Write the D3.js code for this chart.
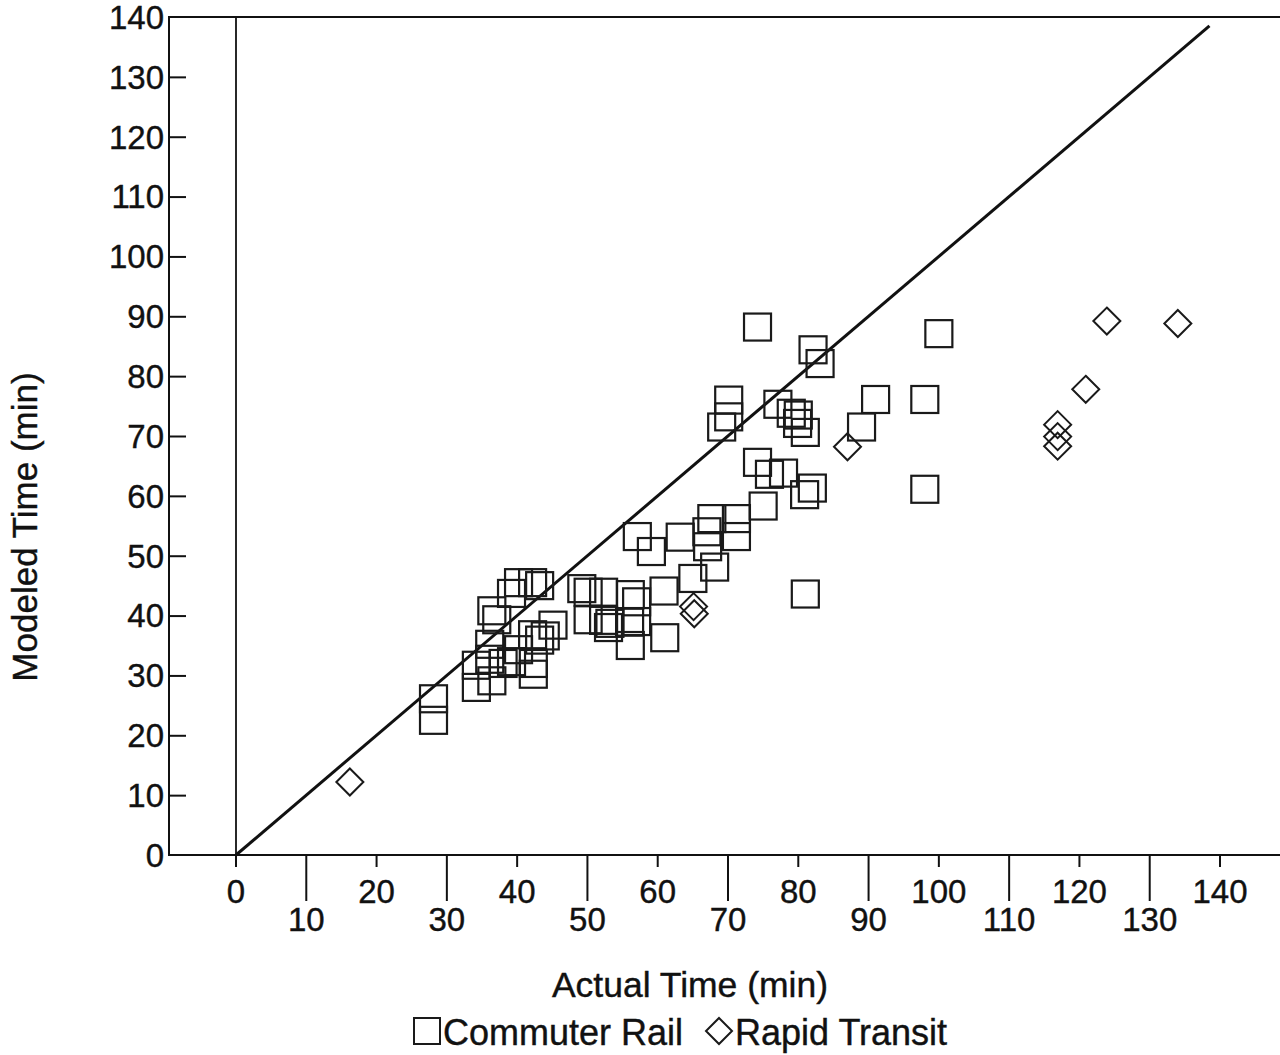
<!DOCTYPE html>
<html>
<head>
<meta charset="utf-8">
<script src="https://cdn.jsdelivr.net/npm/d3@7"></script>
<style>
	body { margin: 0; background: #fff; }
	svg { display: block; font-family: "Liberation Sans", Arial, sans-serif; }
	text { stroke: #111; stroke-width: 0.4px; }
</style>
</head>
<body>
<svg id="chart" width="1280" height="1055"></svg>
<script>
'use strict';

// actual time, modeled time (min)
let commuterRail = [
	[28.1, 26.1], [28.1, 22.5],
	[34.2, 31.7], [34.2, 28.0], [36.1, 35.2], [36.1, 32.7], [36.4, 29.1], [36.4, 40.8],
	[37.1, 39.3], [38.0, 32.0], [39.2, 32.3], [39.2, 43.7], [40.2, 45.5], [40.2, 34.3],
	[42.2, 45.5], [43.2, 45.0], [42.2, 36.8], [43.2, 35.9], [44.0, 36.6], [42.3, 30.2],
	[42.3, 32.0], [45.1, 38.4],
	[49.2, 44.5], [50.1, 43.9], [52.3, 43.9], [53.2, 38.7], [52.3, 39.2], [53.0, 38.0],
	[50.1, 39.3], [56.1, 43.5], [57.0, 42.3], [56.0, 38.9], [57.0, 39.0], [56.1, 35.0],
	[60.9, 44.1], [61.0, 36.3], [57.1, 53.2], [59.1, 50.7], [63.2, 53.1], [65.0, 46.2],
	[68.1, 48.1], [67.7, 56.2], [67.0, 54.0], [67.1, 51.5], [71.2, 56.2], [71.2, 53.2],
	[75.0, 58.3], [74.2, 65.6], [75.9, 63.6], [77.9, 63.8], [82.0, 61.3], [80.9, 60.2],
	[81.0, 43.6],
	[70.1, 76.0], [70.1, 73.2], [69.1, 71.5], [77.1, 75.3], [79.0, 73.8], [80.0, 73.5],
	[81.0, 70.6], [79.9, 72.1],
	[74.2, 88.2], [82.1, 84.4], [83.1, 82.1], [100.0, 87.1], [91.0, 76.1], [89.0, 71.5],
	[98.0, 76.1], [98.0, 61.1]
];

let rapidTransit = [
	[16.2, 12.2], [65.1, 41.5], [65.2, 40.3], [87.0, 68.2], [123.9, 89.2],
	[134.0, 88.8], [120.9, 77.8], [116.9, 71.9], [116.9, 69.9], [116.9, 68.3]
];

let tickValues = d3.range(0, 141, 10);
let fitLine = [[0, 0], [138.5, 138.5]];
let xLabel = "Actual Time (min)";
let yLabel = "Modeled Time (min)";
let legendNames = ["Commuter Rail", "Rapid Transit"];

function drawChart() {
	let svg = d3.select("#chart");
	let fontSize = 33;

	let x = d3.scaleLinear().domain([0, 140]).range([236, 1220]);
	let y = d3.scaleLinear().domain([0, 140]).range([855, 17]);
	let frameLeft = 169;

	// frame
	svg.append("rect")
		.attr("x", frameLeft)
		.attr("y", y(140))
		.attr("width", 1300 - frameLeft)
		.attr("height", y(0) - y(140))
		.attr("fill", "none")
		.attr("stroke", "#111")
		.attr("stroke-width", 2);

	// vertical line at x = 0
	svg.append("line")
		.attr("x1", x(0)).attr("x2", x(0))
		.attr("y1", y(140)).attr("y2", y(0))
		.attr("stroke", "#111")
		.attr("stroke-width", 1.8);

	// y axis, ticks inside the frame
	let yAxis = svg.append("g")
		.attr("transform", "translate(" + frameLeft + ",0)")
		.call(d3.axisRight(y).tickValues(tickValues.filter(function (d) {
			return d > 0 && d < 140;
		})).tickSize(17).tickFormat(""));
	yAxis.select(".domain").remove();
	yAxis.selectAll("line").attr("stroke", "#111").attr("stroke-width", 2);

	svg.append("g")
		.selectAll("text")
		.data(tickValues)
		.enter().append("text")
		.attr("x", frameLeft - 5)
		.attr("y", function (d) { return y(d); })
		.attr("dy", "0.36em")
		.attr("text-anchor", "end")
		.attr("font-size", fontSize)
		.attr("fill", "#111")
		.text(function (d) { return d; });

	// x axis: long ticks on odd tens, short on even
	let xTicks = svg.append("g");
	xTicks.selectAll("line")
		.data(tickValues)
		.enter().append("line")
		.attr("x1", function (d) { return x(d); })
		.attr("x2", function (d) { return x(d); })
		.attr("y1", y(0))
		.attr("y2", function (d) { return y(0) + (d % 20 === 0 ? 12 : 46); })
		.attr("stroke", "#111")
		.attr("stroke-width", 2);

	xTicks.selectAll("text")
		.data(tickValues)
		.enter().append("text")
		.attr("x", function (d) { return x(d); })
		.attr("y", function (d) { return d % 20 === 0 ? 903 : 931; })
		.attr("text-anchor", "middle")
		.attr("font-size", fontSize)
		.attr("fill", "#111")
		.text(function (d) { return d; });

	// axis titles
	svg.append("text")
		.attr("x", 690)
		.attr("y", 997)
		.attr("text-anchor", "middle")
		.attr("font-size", 35.5)
		.attr("fill", "#111")
		.text(xLabel);

	svg.append("text")
		.attr("transform", "translate(37," + 527 + ") rotate(-90)")
		.attr("text-anchor", "middle")
		.attr("font-size", 35)
		.attr("fill", "#111")
		.text(yLabel);

	// y = x reference line
	svg.append("path")
		.datum(fitLine)
		.attr("d", d3.line()
			.x(function (d) { return x(d[0]); })
			.y(function (d) { return y(d[1]); }))
		.attr("fill", "none")
		.attr("stroke", "#111")
		.attr("stroke-width", 3);

	let squareSize = 27;
	let diamondR = 13.5;
	let diamond = function (r) {
		return "M0," + (-r) + "L" + r + ",0L0," + r + "L" + (-r) + ",0Z";
	};

	svg.append("g")
		.selectAll("rect")
		.data(commuterRail)
		.enter().append("rect")
		.attr("x", function (d) { return x(d[0]) - squareSize / 2; })
		.attr("y", function (d) { return y(d[1]) - squareSize / 2; })
		.attr("width", squareSize)
		.attr("height", squareSize)
		.attr("fill", "none")
		.attr("stroke", "#1a1a1a")
		.attr("stroke-width", 2.2);

	svg.append("g")
		.selectAll("path")
		.data(rapidTransit)
		.enter().append("path")
		.attr("transform", function (d) {
			return "translate(" + x(d[0]) + "," + y(d[1]) + ")";
		})
		.attr("d", diamond(diamondR))
		.attr("fill", "none")
		.attr("stroke", "#1a1a1a")
		.attr("stroke-width", 2);

	// legend
	let legend = svg.append("g");
	legend.append("rect")
		.attr("x", 414).attr("y", 1018)
		.attr("width", 26).attr("height", 26)
		.attr("fill", "none")
		.attr("stroke", "#1a1a1a")
		.attr("stroke-width", 2);
	legend.append("text")
		.attr("x", 443).attr("y", 1045)
		.attr("font-size", 36)
		.attr("fill", "#111")
		.text(legendNames[0]);
	legend.append("path")
		.attr("transform", "translate(719,1031)")
		.attr("d", diamond(13))
		.attr("fill", "none")
		.attr("stroke", "#1a1a1a")
		.attr("stroke-width", 2);
	legend.append("text")
		.attr("x", 735).attr("y", 1045)
		.attr("font-size", 36)
		.attr("fill", "#111")
		.text(legendNames[1]);
}

drawChart();
</script>
</body>
</html>
